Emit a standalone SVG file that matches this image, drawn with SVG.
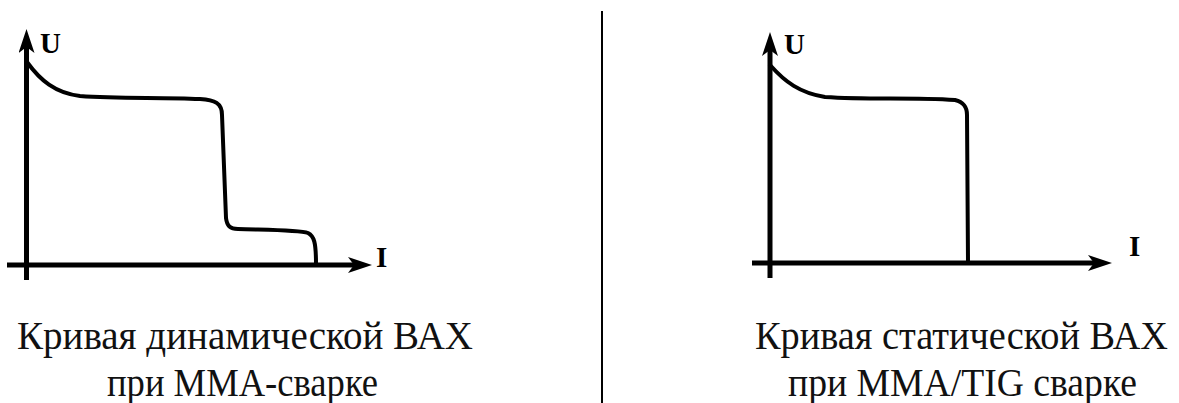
<svg xmlns="http://www.w3.org/2000/svg" width="1179" height="403" viewBox="0 0 1179 403">
<style>
.axis{stroke:#000;stroke-width:5;fill:none}
.curve{stroke:#000;stroke-width:4;fill:none;stroke-linecap:round;stroke-linejoin:round}
.lbl{font-family:"Liberation Serif","Times New Roman",serif;font-weight:bold;font-size:29px;fill:#000}
.cap{font-family:"Liberation Serif","Times New Roman",serif;font-size:39px;fill:#111}
</style>
<defs>
<marker id="arr" viewBox="-6 -8 24 16" refX="0" refY="0" markerWidth="24" markerHeight="16" markerUnits="userSpaceOnUse" orient="auto">
<path d="M-6,-8 L18,0 L-6,8 L0,0 Z" fill="#000"/>
</marker>
</defs>
<rect width="1179" height="403" fill="#fff"/>
<g id="connectors">
<line class="axis" x1="26.5" y1="280" x2="26.5" y2="47" marker-end="url(#arr)"/>
<line class="axis" x1="7" y1="265" x2="354" y2="265" marker-end="url(#arr)"/>
<line class="axis" x1="770" y1="278" x2="770" y2="50" marker-end="url(#arr)"/>
<line class="axis" x1="752" y1="263" x2="1094" y2="263" marker-end="url(#arr)"/>
<line x1="602" y1="11" x2="602" y2="403" stroke="#000" stroke-width="2"/>
</g>
<g id="curve-dynamic">
<path class="curve" d="M27,62 C40,80 55,93 80,96 C120,99 160,97 200,99 C215,100 222,103 222,115 L226,218 C227,226 230,229 238,229 C270,230 300,230 308,233 C314,236 316,242 316,264"/>
</g>
<g id="curve-static">
<path class="curve" d="M770,65 C785,82 800,93 825,97 C870,100 910,97 955,100 C963,102 967,106 967,115 L968,262"/>
</g>
<g id="labels-left">
<text class="lbl" x="40" y="53">U</text>
<text class="lbl" x="376" y="267">I</text>
</g>
<g id="labels-right">
<text class="lbl" x="784" y="54">U</text>
<text class="lbl" x="1129" y="256">I</text>
</g>
<g id="caption-left">
<text class="cap" x="17" y="349" textLength="456" lengthAdjust="spacingAndGlyphs">Кривая динамической ВАХ</text>
<text class="cap" x="107" y="396" textLength="271" lengthAdjust="spacingAndGlyphs">при ММА-сварке</text>
</g>
<g id="caption-right">
<text class="cap" x="755" y="349" textLength="413" lengthAdjust="spacingAndGlyphs">Кривая статической ВАХ</text>
<text class="cap" x="788" y="396" textLength="349" lengthAdjust="spacingAndGlyphs">при ММА/TIG сварке</text>
</g>
</svg>
